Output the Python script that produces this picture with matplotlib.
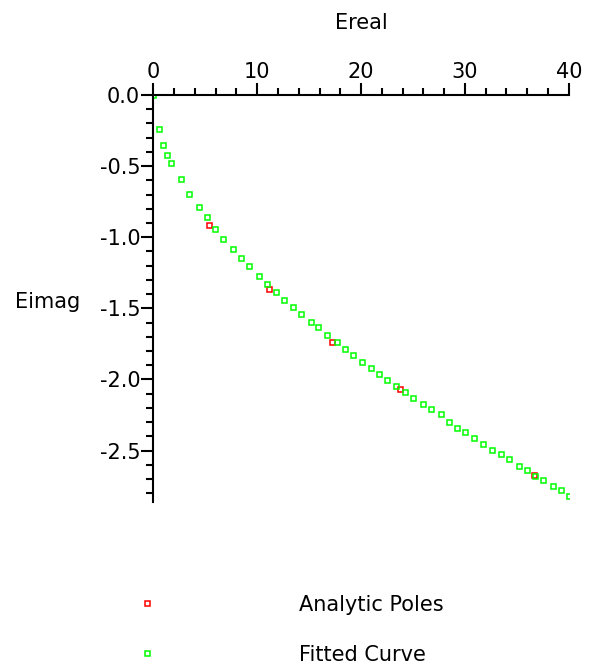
import matplotlib
matplotlib.use('Agg')
import matplotlib.pyplot as plt
from matplotlib.ticker import MultipleLocator

plt.rcParams['font.family'] = ['DejaVu Sans']

# fitted curve points (Ereal, Eimag)
fit_re = [0.0, 0.53, 0.94, 1.30, 1.68, 2.64, 3.44, 4.38, 5.14, 5.94, 6.71, 7.67,
          8.46, 9.25, 10.16, 10.96, 11.80, 12.58, 13.44, 14.23, 15.14, 15.87,
          16.71, 17.67, 18.46, 19.21, 20.08, 20.94, 21.73, 22.50, 23.41, 24.23,
          25.03, 25.98, 26.75, 27.67, 28.44, 29.21, 29.98, 30.91, 31.71, 32.58,
          33.44, 34.25, 35.17, 35.94, 36.75, 37.52, 38.44, 39.25, 40.0]
fit_im = [0.0, -0.239, -0.352, -0.423, -0.481, -0.594, -0.697, -0.791, -0.861,
          -0.944, -1.016, -1.085, -1.143, -1.204, -1.270, -1.326, -1.384, -1.439,
          -1.493, -1.539, -1.593, -1.628, -1.690, -1.736, -1.784, -1.831, -1.875,
          -1.920, -1.960, -2.002, -2.044, -2.086, -2.130, -2.171, -2.211, -2.244,
          -2.296, -2.340, -2.368, -2.413, -2.453, -2.493, -2.526, -2.563, -2.608,
          -2.636, -2.676, -2.706, -2.749, -2.777, -2.822]

# analytic poles
pole_re = [5.34, 11.13, 17.23, 23.70, 36.68]
pole_im = [-0.915, -1.366, -1.735, -2.065, -2.669]

xticks = [0, 10, 20, 30, 40]
yticks = [0, -0.5, -1.0, -1.5, -2.0, -2.5]
ytick_labels = ['0.0', '-0.5', '-1.0', '-1.5', '-2.0', '-2.5']

fig = plt.figure(figsize=(5.9, 6.71), dpi=100)
ax = fig.add_axes([0.260, 0.2523, 0.704, 0.6061])

ax.plot(pole_re, pole_im, ls='none', marker='s', ms=3.6, mfc='none', mec='#ff0000',
        mew=1.1, label='Analytic Poles')
ax.plot(fit_re, fit_im, ls='none', marker='s', ms=3.6, mfc='none', mec='#00ff00',
        mew=1.1, label='Fitted Curve')

ax.set_xlim(0, 40)
ax.set_ylim(-2.86, 0)
for s in ['right', 'bottom']:
    ax.spines[s].set_visible(False)
for s in ['left', 'top']:
    ax.spines[s].set_linewidth(1.5)

ax.xaxis.set_ticks_position('top')
ax.xaxis.set_label_position('top')
ax.set_xticks(xticks)
ax.set_yticks(yticks)
ax.set_yticklabels(ytick_labels)
ax.xaxis.set_minor_locator(MultipleLocator(2))
ax.yaxis.set_minor_locator(MultipleLocator(0.1))
ax.tick_params(which='major', length=8.5, width=1.5, labelsize=15, pad=1)
ax.tick_params(which='minor', length=4.8, width=1.5)

ax.set_xlabel('Ereal', fontsize=15)
ax.xaxis.set_label_coords(0.5, 1.177)
ax.xaxis.label.set_verticalalignment('center')
ax.text(-0.333, 0.49, 'Eimag', transform=ax.transAxes, fontsize=15,
        ha='left', va='center')

fig.legend(loc='upper left', bbox_to_anchor=(0.232, 0.114), frameon=False,
           handlelength=1, handletextpad=6.8, fontsize=15, labelspacing=1.45,
           borderpad=0, borderaxespad=0)

plt.savefig('out.png', dpi=100)
